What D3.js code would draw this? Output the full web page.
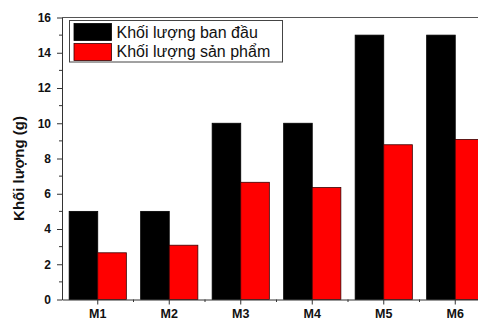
<!DOCTYPE html>
<html><head><meta charset="utf-8">
<script src="https://cdn.jsdelivr.net/npm/d3@7"></script>
<style>body{margin:0;background:#fff}svg{display:block;font-family:"Liberation Sans",Arial,sans-serif}</style>
</head><body><svg id="c" width="478" height="320"></svg>
<script>
const categories = ["M1","M2","M3","M4","M5","M6"];
const seriesNames = ["Khối lượng ban đầu","Khối lượng sản phẩm"];
const initialMass = [5,5,10,10,15,15];
const productMass = [2.65,3.08,6.65,6.35,8.78,9.08];
const yTicks = [0,2,4,6,8,10,12,14,16];
const yMinorTicks = [1,3,5,7,9,11,13,15];
const yLabel = "Khối lượng (g)";
const colors = ["#000000","#ff0000"];

const svg = d3.select("#c");
const mLeft = 62, mRight = 491, mTop = 17.5, mBottom = 299.5;
const x = d3.scaleBand().domain(categories).range([mLeft,mRight]).paddingInner(0.2).paddingOuter(0.1);
const xs = d3.scaleBand().domain([0,1]).range([0,x.bandwidth()]);
const y = d3.scaleLinear().domain([0,16]).range([mBottom,mTop]);
const series = [initialMass, productMass];

// bars
series.forEach((vals,si)=>{
  svg.append("g").selectAll("rect").data(vals).join("rect")
    .attr("x",(d,i)=>x(categories[i])+xs(si))
    .attr("y",d=>y(d))
    .attr("width",xs.bandwidth())
    .attr("height",d=>y(0)-y(d))
    .attr("fill",colors[si])
    .attr("stroke", si===0 ? "#000" : "#3a0000")
    .attr("stroke-width",0.8);
});

// frame top
svg.append("line").attr("x1",mLeft).attr("x2",mRight).attr("y1",y(16)).attr("y2",y(16)).attr("stroke","#555").attr("stroke-width",1);

// y axis
const yAxis = svg.append("g").attr("transform",`translate(${mLeft},0)`)
  .call(d3.axisLeft(y).tickValues(yTicks).tickSize(5).tickPadding(6).tickSizeOuter(0).tickFormat(d3.format("d")));
yAxis.select(".domain").attr("stroke","#333");
yAxis.selectAll(".tick line").attr("stroke","#333");
yAxis.selectAll("text").attr("font-size",12).attr("font-weight","bold").attr("fill","#111").attr("font-family","Liberation Sans, Arial, sans-serif");
svg.append("g").selectAll("line").data(yMinorTicks).join("line")
  .attr("x1",mLeft-3).attr("x2",mLeft).attr("y1",d=>y(d)).attr("y2",d=>y(d)).attr("stroke","#333");

// x axis
const xAxis = svg.append("g").attr("transform",`translate(0,${mBottom})`)
  .call(d3.axisBottom(x).tickSize(5).tickPadding(5).tickSizeOuter(0));
xAxis.select(".domain").attr("stroke","#333");
xAxis.selectAll(".tick line").attr("stroke","#333");
xAxis.selectAll("text").attr("font-size",12.5).attr("font-weight","bold").attr("fill","#111").attr("font-family","Liberation Sans, Arial, sans-serif");
svg.append("g").selectAll("line").data(categories.slice(1)).join("line")
  .attr("x1",d=>x(d)-x.step()*x.paddingInner()/2).attr("x2",d=>x(d)-x.step()*x.paddingInner()/2)
  .attr("y1",mBottom).attr("y2",mBottom+2.5).attr("stroke","#333");

// y label
svg.append("text").attr("transform",`translate(23.5,${(mTop+mBottom)/2 + 10}) rotate(-90)`)
  .attr("text-anchor","middle").attr("font-size",15).attr("font-weight","bold").attr("fill","#111").text(yLabel);

// legend
const lg = svg.append("g");
lg.append("rect").attr("x",69.5).attr("y",20.5).attr("width",213).attr("height",41.5)
  .attr("fill","#fff").attr("stroke","#444").attr("stroke-width",1);
seriesNames.forEach((name,i)=>{
  lg.append("rect").attr("x",74).attr("y",23.5+i*20).attr("width",37.5).attr("height",17)
    .attr("fill",colors[i]).attr("stroke", i===0?"#000":"#3a0000").attr("stroke-width",0.8);
  lg.append("text").attr("x",116.5).attr("y",37.5+i*19.5).attr("font-size",16).attr("fill","#111").text(name);
});
</script></body></html>
